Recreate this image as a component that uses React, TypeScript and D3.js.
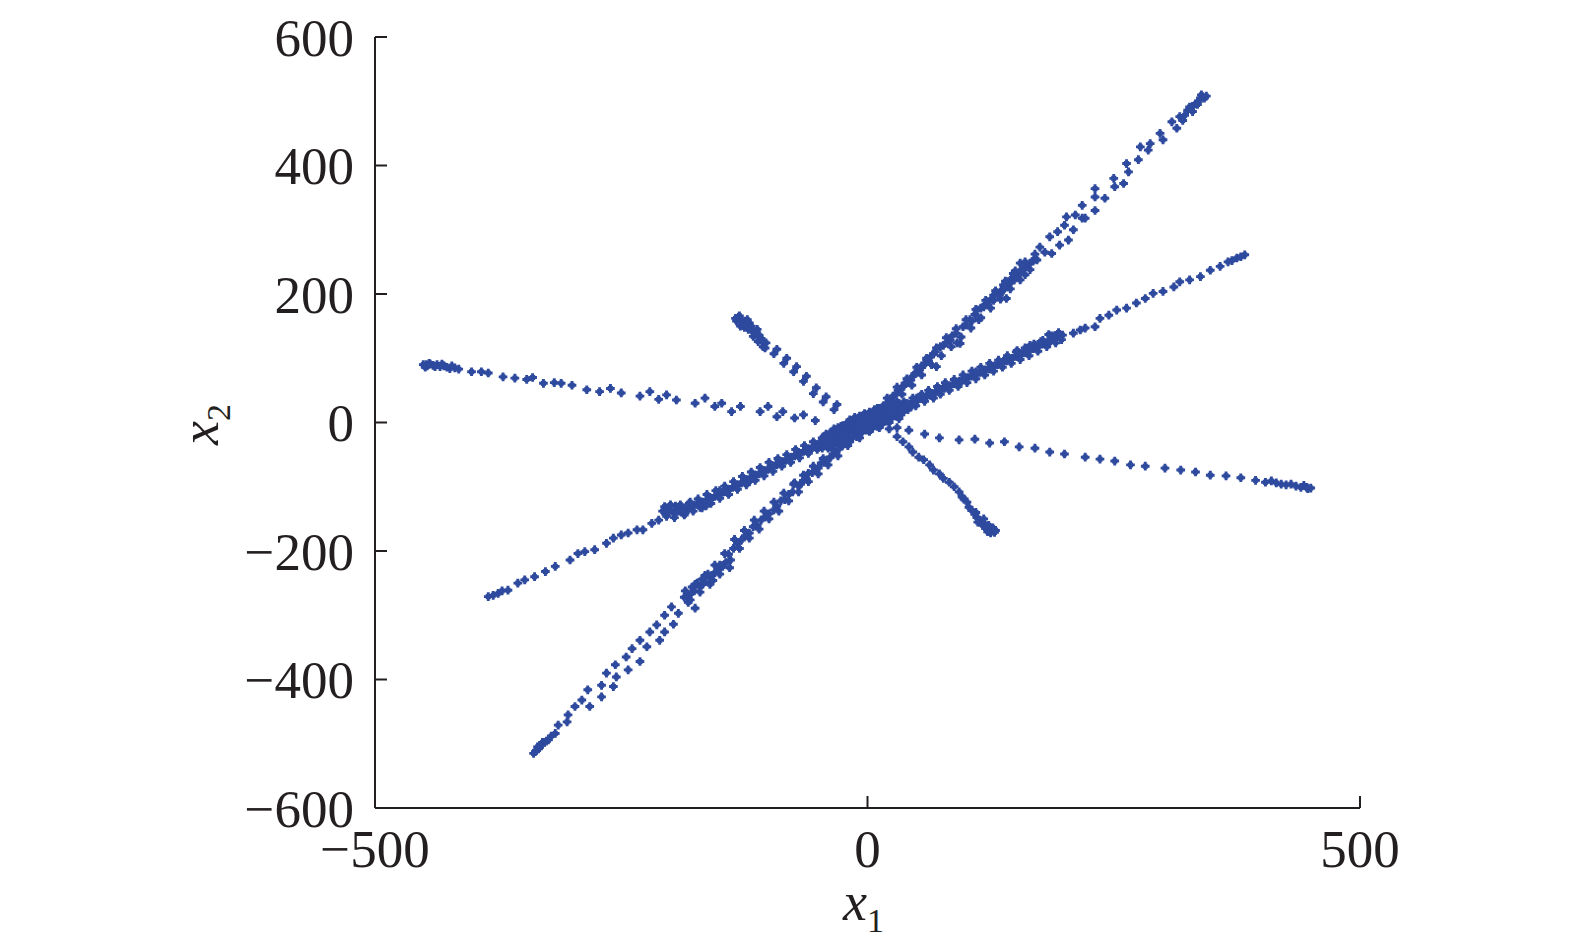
import React from "react";
import * as d3 from "d3";

// ---- data (x1, x2) ----
const steepPos: [number, number][] = [
  [8,13],[11,18],[14,20],[16,26],[19,28],[22,34],[24,37],[26,41],[29,44],[31,50],[34,52],[36,56],[38,61],[41,62],[44,66],[46,72],[48,76],[50,78],[53,82],[55,88],[58,90],[60,97],[62,95],[64,102],[67,107],[69,110],[70,87],[74,118],[77,120],[80,124],[84,128],[86,135],[90,139],[91,124],[94,123],[97,149],[100,152],[104,160],[106,158],[109,168],[111,175],[113,160],[115,178],[118,180],[120,184],[123,188],[126,192],[128,190],[131,201],[134,198],[136,206],[138,206],[141,193],[142,212],[145,217],[146,224],[149,222],[150,230],[152,226],[155,235],[157,238],[160,242],[162,245],[165,248],[168,251],[170,255],[172,253],[175,273],[180,265],[185,289],[187,263],[193,297],[195,276],[200,307],[202,320],[204,284],[209,300],[211,323],[218,318],[218,338],[221,318],[231,330],[231,351],[231,364],[241,349],[250,380],[251,367],[260,372],[263,403],[265,390],[275,409],[277,429],[285,424],[287,434],[297,450],[300,440],[309,468],[314,458],[317,476],[320,470],[325,486],[327,491],[330,484],[333,496],[336,500],[339,510],[342,505],
  [10,22],[15,12],[20,38],[25,28],[30,55],[35,44],[40,68],[45,58],[50,86],[55,74],[60,100],[65,90],[70,116],[75,104],[80,132],[85,118],[90,146],[95,133],[100,160],[105,147],[110,176],[115,163],[120,190],[125,178],[130,205],[135,192],[140,220],[145,208],[150,236],[155,222],[160,250],[165,238],[170,262],[155,248],[148,232],[138,214],[128,198],[160,230],
  [338,505],[335,495],[330,492],[322,478],[344,508]
];
const steepNeg: [number, number][] = [
  [-8,-12],[-11,-17],[-14,-19],[-17,-25],[-20,-28],[-23,-33],[-26,-37],[-29,-41],[-32,-46],[-35,-49],[-38,-55],[-41,-58],[-44,-62],[-47,-63],[-50,-71],[-53,-74],[-56,-78],[-60,-79],[-62,-88],[-65,-90],[-68,-96],[-70,-99],[-74,-94],[-76,-108],[-80,-112],[-84,-120],[-88,-122],[-92,-130],[-95,-136],[-100,-142],[-104,-147],[-108,-152],[-112,-160],[-116,-162],[-120,-172],[-124,-176],[-128,-183],[-132,-188],[-136,-196],[-139,-214],[-141,-205],[-144,-218],[-147,-224],[-150,-222],[-152,-230],[-155,-234],[-158,-238],[-160,-242],[-162,-236],[-165,-248],[-168,-252],[-170,-256],[-173,-250],[-176,-262],[-179,-266],[-183,-270],[-186,-272],[-175,-289],[-192,-297],[-199,-287],[-206,-300],[-197,-314],[-214,-315],[-221,-326],[-206,-326],[-211,-339],[-231,-339],[-224,-349],[-239,-352],[-245,-365],[-231,-372],[-243,-385],[-256,-377],[-255,-396],[-265,-390],[-258,-411],[-270,-409],[-270,-427],[-284,-416],[-282,-442],[-290,-432],[-297,-442],[-304,-455],[-305,-466],[-314,-471],[-317,-484],[-321,-488],[-324,-494],[-328,-498],[-331,-502],[-333,-506],[-336,-510],[-339,-515],[-335,-505],
  [-10,-22],[-15,-12],[-20,-36],[-25,-28],[-30,-52],[-35,-42],[-40,-66],[-45,-56],[-50,-80],[-55,-68],[-60,-92],[-65,-82],[-70,-108],[-75,-96],[-80,-122],[-85,-110],[-90,-138],[-95,-124],[-100,-150],[-105,-138],[-110,-166],[-115,-152],[-120,-180],[-125,-168],[-130,-196],[-135,-182],[-140,-226],[-145,-204],[-150,-236],[-155,-222],[-160,-252],[-165,-238],[-170,-264],[-175,-252],[-180,-276],[-185,-262],[-157,-246],[-168,-244],[-178,-256],[-182,-280],
  [-337,-512],[-334,-508],[-330,-498],[-326,-496]
];
const mediumPos: [number, number][] = [
  [8,6],[12,8],[15,11],[18,12],[21,15],[24,16],[27,19],[30,21],[33,22],[36,25],[39,27],[42,28],[45,31],[48,33],[51,35],[54,37],[57,39],[60,41],[63,43],[66,45],[69,47],[72,49],[75,52],[78,53],[81,56],[84,57],[87,60],[90,61],[93,64],[96,66],[99,68],[102,70],[105,72],[108,73],[111,76],[114,78],[117,80],[120,82],[123,84],[126,86],[129,88],[132,90],[135,92],[138,95],[141,96],[144,99],[147,100],[150,103],[153,104],[156,107],[159,109],[162,111],[165,113],[168,115],[171,118],[174,119],[177,122],[180,124],[183,126],[186,128],[189,130],[192,133],[195,134],[198,136],
  [20,18],[35,21],[50,38],[65,42],[80,58],[95,63],[110,79],[125,83],[140,98],[155,104],[170,120],[185,125],[190,135],
  [10,12],[14,4],[19,20],[23,9],[28,25],[32,15],[37,32],[41,20],[46,38],[49,26],[55,44],[58,33],[62,50],[67,38],[71,56],[74,44],[79,62],[83,50],[88,67],[92,56],[97,74],[101,62],[106,80],[110,68],[115,86],[119,74],[124,92],[128,80],[133,97],[137,86],[142,104],[146,92],[151,110],[155,98],[160,116],[164,104],[169,122],[173,111],[178,128],[182,118],[187,135],[191,124],[194,140],[197,129],[184,137],[176,126],[165,120],[152,112],
  [209,139],[216,144],[221,147],[231,149],[236,162],[245,167],[253,175],[263,178],[273,186],[282,193],[290,201],[300,204],[311,211],[317,219],[327,222],[338,227],[348,237],[358,243],[366,250],[375,256],[383,261],[379,258],[370,252]
];
const mediumNeg: [number, number][] = [
  [-8,-6],[-11,-7],[-14,-10],[-17,-11],[-20,-14],[-23,-15],[-26,-17],[-29,-20],[-32,-22],[-35,-24],[-38,-26],[-41,-28],[-44,-31],[-47,-32],[-50,-35],[-53,-37],[-56,-39],[-59,-41],[-62,-44],[-65,-45],[-68,-48],[-71,-50],[-74,-52],[-77,-54],[-80,-57],[-83,-59],[-86,-61],[-89,-63],[-92,-66],[-95,-68],[-98,-70],[-101,-73],[-104,-75],[-107,-78],[-110,-80],[-113,-82],[-116,-85],[-119,-87],[-122,-89],[-125,-92],[-128,-94],[-131,-97],[-134,-99],[-137,-101],[-140,-104],[-143,-106],[-146,-108],[-149,-111],[-152,-113],[-155,-115],[-158,-118],[-161,-120],[-164,-122],[-167,-124],[-170,-126],[-173,-127],[-176,-129],[-179,-131],[-182,-133],[-185,-134],[-188,-136],[-191,-138],[-194,-139],[-197,-141],[-200,-136],[-203,-140],[-206,-131],
  [-30,-16],[-60,-46],[-90,-60],[-120,-92],[-150,-106],[-170,-132],[-180,-124],[-195,-130],
  [-10,-2],[-15,-16],[-19,-6],[-24,-22],[-28,-12],[-33,-28],[-37,-18],[-42,-35],[-46,-24],[-51,-42],[-55,-30],[-60,-48],[-64,-36],[-69,-55],[-73,-42],[-78,-62],[-82,-50],[-87,-68],[-91,-56],[-96,-76],[-100,-62],[-105,-83],[-109,-70],[-114,-90],[-118,-77],[-123,-97],[-127,-84],[-132,-104],[-136,-92],[-141,-112],[-145,-99],[-150,-118],[-154,-106],[-159,-126],[-163,-112],[-168,-133],[-172,-119],[-177,-138],[-181,-126],[-186,-144],[-190,-128],[-196,-148],[-200,-128],[-204,-146],[-208,-138],[-164,-130],[-185,-141],[-192,-132],
  [-212,-152],[-219,-157],[-228,-167],[-234,-167],[-243,-172],[-250,-175],[-258,-180],[-265,-188],[-277,-198],[-287,-201],[-294,-204],[-302,-214],[-317,-224],[-327,-232],[-338,-240],[-348,-245],[-355,-250],[-365,-261],[-375,-266],[-380,-269],[-385,-271],[-371,-262]
];
const shallowNeg: [number, number][] = [
  [-451,90],[-447,88],[-444,91],[-441,89],[-437,90],[-434,87],[-430,88],[-424,84],[-419,85],[-415,83],[-402,79],[-392,79],[-385,77],[-370,71],[-358,69],[-346,67],[-340,70],[-329,61],[-318,62],[-311,61],[-300,58],[-285,51],[-272,48],[-261,53],[-250,46],[-231,41],[-221,48],[-212,36],[-204,43],[-194,35],[-175,30],[-165,38],[-155,25],[-148,30],[-138,17],[-129,25],[-109,17],[-101,25],[-92,9],[-86,17],[-74,7],[-65,12],[-53,3],
  [-449,86],[-445,92],[-439,87],[-432,91],[-427,86],[-422,88],[-448,90]
];
const shallowPos: [number, number][] = [
  [30,-8],[42,-12],[58,-18],[73,-24],[93,-27],[109,-26],[124,-32],[139,-30],[154,-38],[170,-40],[185,-46],[200,-49],[221,-54],[236,-57],[251,-60],[267,-66],[282,-68],[302,-71],[318,-74],[333,-77],[348,-82],[364,-83],[379,-86],[394,-90],[404,-93],[410,-91],[415,-94],[420,-96],[425,-97],[430,-96],[435,-99],[440,-101],[443,-98],[446,-101],[450,-102],[447,-103]
];
const crossUp: [number, number][] = [
  [-131,164],[-128,160],[-133,158],[-126,154],[-124,158],[-121,145],[-118,150],[-116,134],[-113,140],[-111,126],[-108,131],[-106,118],[-103,124],[-95,107],[-92,114],[-85,92],[-82,100],[-75,79],[-72,87],[-65,64],[-62,72],[-55,45],[-52,54],[-45,32],[-42,40],[-34,20],[-31,28],
  [-129,150],[-120,155],[-125,148],[-117,142],[-110,136],
  [-130,166],[-127,152],[-123,150],[-119,147],[-114,136],[-112,145],[-134,162],[-122,160],[-107,126],[-104,116]
];
const crossDown: [number, number][] = [
  [22,-10],[30,-22],[36,-30],[42,-38],[46,-46],[52,-54],[57,-58],[63,-66],[67,-74],[73,-80],[77,-87],[83,-93],[88,-100],[93,-108],[96,-116],[98,-119],[101,-124],[103,-132],[106,-137],[109,-143],[111,-148],[114,-152],[116,-156],[119,-158],[121,-162],[124,-166],[126,-168],[129,-171],[127,-164],[122,-170],[118,-150],
  [125,-172],[128,-166],[120,-165],[117,-160],[112,-155],[110,-140],[123,-160],[130,-168]
];
const core: [number, number][] = [
  [-40,-30],[-38,-24],[-35,-28],[-33,-20],[-30,-24],[-28,-16],[-26,-22],[-24,-12],[-22,-18],[-20,-10],[-18,-16],[-16,-6],[-14,-12],[-12,-2],[-10,-9],[-8,0],[-6,-6],[-4,4],[-2,-3],[0,6],[2,-1],[4,8],[6,1],[8,10],[10,3],[12,13],[14,5],[16,15],[18,8],[20,18],[22,11],[24,20],[26,14],[28,22],[30,17],[32,24],[34,20],[36,26],[-36,-32],[-30,-32],[-20,-20],[-10,-16],[0,-4],[10,-6],[20,6],[30,10],[-25,-5],[-15,2],[-5,10],[5,14],[15,20],[25,26],[-32,-12],[0,0],[-5,-12],[5,-8],[15,-2],[-15,-22],[-28,-30],[38,20],[-42,-26],
  [-45,-35],[-44,-22],[-40,-40],[-38,-16],[-35,-36],[-34,-10],[-30,-28],[-27,-6],[-25,-30],[-22,-4],[-20,-26],[-18,4],[-16,-20],[-13,8],[-11,-22],[-8,10],[-6,-16],[-3,14],[-1,-12],[2,16],[4,-10],[7,20],[9,-4],[12,22],[14,-2],[17,26],[19,2],[22,28],[24,6],[27,30],[29,10],[32,30],[34,12],[37,30],[40,22],[42,28],[-12,-12],[-4,-4],[4,4],[12,8],[-24,-18],[24,14],[-36,-26],[36,22],
  [-48,-30],[-46,-40],[-42,-18],[-38,-38],[-30,-8],[-26,-36],[-18,-30],[-20,0],[-10,6],[-8,-24],[0,12],[2,-14],[10,18],[12,-8],[20,28],[22,0],[30,32],[32,6],[40,30],[44,24],[-50,-36]
];

const xTicks = [-500, 0, 500];
const yTicks = [-600, -400, -200, 0, 200, 400, 600];

const W = 1575, H = 949;
const COLOR = "#2E4A9E";
const FONT = "'Liberation Serif', 'Times New Roman', serif";

export default function App() {
  const x = d3.scaleLinear().domain([-500, 500]).range([375, 1360]);
  const y = d3.scaleLinear().domain([-600, 600]).range([808, 37]);
  const all = [...steepPos, ...steepNeg, ...mediumPos, ...mediumNeg, ...shallowNeg, ...shallowPos, ...crossUp, ...crossDown, ...core];
  const cross = d3.symbol().type(d3.symbolCross).size(42)() as string;
  const square = d3.symbol().type(d3.symbolSquare).size(26)() as string;
  const fmt = (v: number) => (v < 0 ? "\u2212" + Math.abs(v) : String(v));
  return (
    <svg width={W} height={H} style={{ position: "absolute", left: 0, top: 0, background: "#fff" }}>
      <g fill={COLOR}>
        {all.map((p, i) => (
          <g key={i} transform={`translate(${x(p[0])},${y(p[1])})`}>
            <path d={cross} />
            <path d={square} />
          </g>
        ))}
      </g>
      <g stroke="#231F20" strokeWidth={2} fill="none">
        <line x1={x(-500)} x2={x(-500)} y1={y(600)} y2={y(-600)} />
        <line x1={x(-500)} x2={x(500)} y1={y(-600)} y2={y(-600)} />
        {yTicks.map((t) => (
          <line key={"yt" + t} x1={x(-500)} x2={x(-500) + 12} y1={y(t)} y2={y(t)} />
        ))}
        {xTicks.map((t) => (
          <line key={"xt" + t} x1={x(t)} x2={x(t)} y1={y(-600)} y2={y(-600) - 12} />
        ))}
      </g>
      <g fontFamily={FONT} fontSize={53} fill="#231F20">
        {yTicks.map((t) => (
          <text key={"yl" + t} x={354} y={y(t)} dy="0.35em" textAnchor="end">{fmt(t)}</text>
        ))}
        {xTicks.map((t) => (
          <text key={"xl" + t} x={x(t)} y={867} textAnchor="middle">{fmt(t)}</text>
        ))}
        <text x={843} y={920} fontStyle="italic" fontSize={54}>
          x<tspan fontStyle="normal" fontSize={34} dy={12}>1</tspan>
        </text>
        <text transform="translate(218,445) rotate(-90)" fontStyle="italic" fontSize={54}>
          x<tspan fontStyle="normal" fontSize={34} dy={12}>2</tspan>
        </text>
      </g>
    </svg>
  );
}
